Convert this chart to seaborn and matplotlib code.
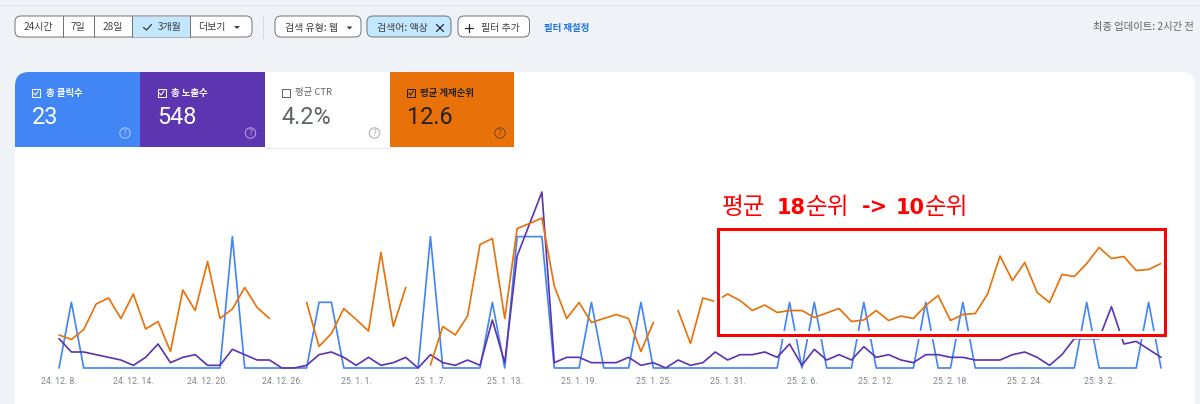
import numpy as np
import pandas as pd
import matplotlib
matplotlib.use("Agg")
import matplotlib.pyplot as plt
from matplotlib.patches import Rectangle, FancyBboxPatch, Circle
import seaborn as sns

sns.set_style("white")
plt.rcParams['font.family'] = ['Noto Sans CJK KR', 'DejaVu Sans']

# ----------------------------------------
# Data
# ----------------------------------------
nan = np.nan
dates = pd.date_range("2024-12-08", periods=90)
tick_labels = ["24. 12. 8.", "24. 12. 14.", "24. 12. 20.", "24. 12. 26.", "25. 1. 1.",
               "25. 1. 7.", "25. 1. 13.", "25. 1. 19.", "25. 1. 25.", "25. 1. 31.",
               "25. 2. 6.", "25. 2. 12.", "25. 2. 18.", "25. 2. 24.", "25. 3. 2."]

clicks = [0, 1, 0, 0, 0, 0, 0, 0, 0, 0, 0, 0, 0, 0, 2, 0, 0, 0, 0, 0,
          0, 1, 1, 0, 0, 0, 0, 0, 0, 0, 2, 0, 0, 0, 0, 1, 0, 2, 2, 2,
          0, 0, 0, 1, 0, 0, 0, 1, 0, 0, 0, 0, 0, 0, 0, 0, 0, 0, 0, 1,
          0, 1, 0, 0, 0, 1, 0, 0, 0, 0, 1, 0, 0, 1, 0, 0, 0, 0, 0, 0,
          0, 0, 0, 1, 0, 0, 0, 0, 1, 0]

impressions = [11, 6, 6, 5, 4, 3, 1, 4, 9, 2, 4, 5, 1, 1, 7, 5, 3, 3, 0, 0,
               1, 5, 6, 4, 1, 4, 1, 2, 4, 0, 5, 2, 1, 3, 1, 18, 2, 42, 54, 66,
               2, 4, 4, 2, 2, 2, 4, 1, 2, 0, 3, 1, 2, 6, 3, 5, 5, 6, 4, 9,
               1, 7, 3, 5, 3, 8, 4, 5, 3, 2, 5, 5, 4, 4, 3, 3, 3, 5, 6, 4,
               1, 5, 11, 11, 11, 23, 9, 10, 7, 4]

position = [24.4, 25.3, 23.3, 18.2, 17.0, 21.1, 16.2, 23.2, 21.7, 27.7,
            15.4, 19.5, 9.7, 21.1, 19.2, 14.9, 18.9, 21.1, nan, nan,
            17.9, 26.7, 24.1, 19.1, 21.3, 23.6, 7.9, 22.7, 14.9, nan,
            30.4, 22.7, 24.4, 20.6, 6.3, 5.1, 21.1, 3.1, 2.1, 1.0,
            14.6, 21.1, 17.9, 21.9, 21.1, 20.3, 21.1, 27.7, 21.9, nan,
            19.5, 26.1, 17.0, 17.7, 16.2, 17.5, 19.5, 18.4, 19.9, 19.5,
            19.5, 20.9, 20.0, 19.1, 21.7, 21.4, 19.5, 21.5, 20.6, 21.1,
            18.5, 16.5, 21.5, 20.3, 20.1, 16.2, 8.6, 13.5, 9.9, 15.9,
            17.9, 12.3, 12.7, 10.1, 6.9, 9.1, 8.7, 11.5, 11.3, 10.1]

df = pd.DataFrame({"date": dates, "clicks": clicks, "impressions": impressions, "position": position})
df["segment"] = df["position"].isna().cumsum()

BLUE = "#4285f4"
PURPLE = "#5e35b1"
ORANGE = "#e8710a"
GREY = "#5f6368"
CHIP = "#c2e7ff"
BG = "#eff2f7"
W, H = 1200, 404
px = 0.72  # one pixel in points at dpi 100

fig = plt.figure(figsize=(12, 4.04), dpi=100, facecolor=BG)

# ----------------------------------------
# Page furniture, in pixel coordinates
# ----------------------------------------
ui = fig.add_axes([0, 0, 1, 1], zorder=0)
ui.set_xlim(0, W)
ui.set_ylim(H, 0)
ui.axis("off")


def round_box(x0, y0, x1, y1, r, face, edge="none", lw=0.0, zorder=1):
    ui.add_patch(FancyBboxPatch((x0 + r, y0 + r), x1 - x0 - 2 * r, y1 - y0 - 2 * r,
                                boxstyle=f"round,pad={r},rounding_size={r}",
                                fc=face, ec=edge, lw=lw, zorder=zorder))


def label(x, y, s, size=7.2, color="#3c4043", ha="center", **kw):
    ui.text(x, y, s, fontsize=size, color=color, ha=ha, va="center", zorder=6, **kw)


def triangle(x, y, color="#3c4043"):
    ui.fill([x - 3, x + 3, x], [y - 1.5, y - 1.5, y + 1.5], color=color, lw=0, zorder=6)


ui.plot([0, W], [4.5, 4.5], color="#dfe3e8", lw=1 * px)

# date range buttons
round_box(15, 16, 252, 37, 6, "white", "#747775", 1 * px)
ui.add_patch(Rectangle((132, 16.5), 57.5, 20, fc=CHIP, ec="none", zorder=2))
for x in [62.5, 94, 132, 189.5]:
    ui.plot([x, x], [16, 37], color="#747775", lw=1 * px, zorder=3)
range_labels = ["24시간", "7일", "28일", "3개월", "더보기"]
for x, s in zip([38.5, 78, 113, 170, 212], range_labels):
    label(x, 27, s)
ui.plot([143.5, 146.5, 151.5], [27.5, 30, 24.5], color="#202124", lw=1.1 * px, zorder=6)
triangle(237, 27.5)
ui.plot([263, 263], [16, 37.5], color="#d5d8dd", lw=1 * px)

# filter chips
round_box(275, 16, 361, 37, 6, "white", "#747775", 1 * px)
label(311.5, 28, "검색 유형: 웹")
triangle(349.5, 28)
round_box(367, 16, 451, 37, 6, CHIP, "#747775", 1 * px)
label(402.5, 28, "검색어: 액상")
ui.plot([436.5, 443.5], [24.5, 31.5], color="#202124", lw=1.2 * px, zorder=6)
ui.plot([436.5, 443.5], [31.5, 24.5], color="#202124", lw=1.2 * px, zorder=6)
round_box(458, 16, 529.5, 37, 6, "white", "#747775", 1 * px)
ui.plot([465, 473], [27.5, 27.5], color="#202124", lw=1.2 * px, zorder=6)
ui.plot([469, 469], [23.5, 31.5], color="#202124", lw=1.2 * px, zorder=6)
label(500, 28, "필터 추가")
label(567, 28, "필터 재설정", color="#1a73e8", fontweight="bold", size=6.8)
label(1194, 27, "최종 업데이트: 2시간 전", color=GREY, ha="right", size=7.4)

# white card and the four metric tabs
round_box(15, 72, 1195, 460, 14, "white", zorder=1)
round_box(15, 72, 60, 147, 14, BLUE, zorder=2)
ui.add_patch(Rectangle((15, 100), 40, 47, fc=BLUE, ec="none", zorder=2))
ui.add_patch(Rectangle((40, 72), 100, 75, fc=BLUE, ec="none", zorder=2))
ui.add_patch(Rectangle((140, 72), 125, 75, fc=PURPLE, ec="none", zorder=2))
ui.add_patch(Rectangle((389.5, 72), 124.5, 75, fc=ORANGE, ec="none", zorder=2))
ui.plot([265, 389.5], [147.5, 147.5], color="#e6e8eb", lw=1 * px, zorder=2)

tab_names = ["총 클릭수", "총 노출수", "평균 CTR", "평균 게재순위"]
tab_values = ["23", "548", "4.2%", "12.6"]
tab_left = [32, 157.5, 281.5, 407]
tab_colors = ["white", "white", GREY, "#202124"]
tab_checked = [True, True, False, True]
for x, name, value, color, checked in zip(tab_left, tab_names, tab_values, tab_colors, tab_checked):
    ui.add_patch(Rectangle((x, 89), 8, 8, fc="none", ec=color, lw=1 * px, zorder=6))
    if checked:
        ui.plot([x + 1.8, x + 3.5, x + 6.5], [93, 95, 91], color=color, lw=1 * px, zorder=6)
    label(x + 13.5, 93, name, color=color, ha="left", size=6.8, fontweight="bold" if checked else "normal")
    label(x, 117.5, value, size=16.8, color=color, ha="left", family="Roboto", fontweight="normal")
    help_x = x + 93
    ui.add_patch(Circle((help_x, 133), 5.2, fc="none", ec=color, lw=1 * px, alpha=0.55, zorder=6))
    ui.text(help_x, 133, "?", fontsize=6, color=color, alpha=0.55, ha="center", va="center", zorder=6)

# ----------------------------------------
# The chart: one axis per series, like the Search Console report
# ----------------------------------------
left, right, bottom, top = 59, 1161, 368, 180
rect = [left / W, 1 - bottom / H, (right - left) / W, (bottom - top) / H]
ax = fig.add_axes(rect, zorder=2)
ax.patch.set_visible(False)
ax2 = ax.twinx()
ax3 = ax.twinx()

line_w = 1.7 * px
sns.lineplot(data=df, x="date", y="clicks", color=BLUE, lw=line_w, ax=ax, clip_on=False)
sns.lineplot(data=df, x="date", y="impressions", color=PURPLE, lw=line_w, ax=ax2, clip_on=False)
sns.lineplot(data=df, x="date", y="position", units="segment", estimator=None,
             color=ORANGE, lw=line_w, ax=ax3, clip_on=False)

ax.set_ylim(0, 2.862)
ax2.set_ylim(0, 70.5)
ax3.set_ylim(31, -6.6)
for a in [ax, ax2, ax3]:
    a.set_xlim(dates[0], dates[-1])
    a.set_ylabel("")
    a.set_xlabel("")
    a.set_yticks([])
    sns.despine(ax=a, left=True, right=True, top=True, bottom=True)

ax.set_xticks(dates[::6])
ax.set_xticklabels(tick_labels, fontsize=6.3, color="#80868b", family="Roboto")
ax.tick_params(axis="x", length=0, pad=6.5)

# ----------------------------------------
# Red note drawn over the screenshot
# ----------------------------------------
note = fig.add_axes([0, 0, 1, 1], zorder=3)
note.set_xlim(0, W)
note.set_ylim(H, 0)
note.axis("off")
note.patch.set_visible(False)

box_x0, box_x1, box_y0, box_y1 = 717.5, 1165, 229, 335
# white halo under the red box, it cuts the lines where they cross it
note.add_patch(Rectangle((box_x0, box_y0), box_x1 - box_x0, box_y1 - box_y0,
                         fc="none", ec="white", lw=8 * px, zorder=1))
note.add_patch(Rectangle((box_x0, box_y0), box_x1 - box_x0, box_y1 - box_y0,
                         fc="none", ec="#ff0000", lw=3 * px, zorder=3))

note_parts = [(722, "평균", "normal"), (777, "18", "bold"), (806, "순위", "normal"),
              (862, "->", "bold"), (896, "10", "bold"), (925, "순위", "normal")]
for x, s, weight in note_parts:
    fam = "Noto Sans CJK KR" if weight == "normal" else "DejaVu Sans"
    size = 17 if weight == "normal" else 15
    note.text(x, 208, s, color="#ff0000", fontsize=size, fontweight=weight, family=fam, ha="left", va="center")

fig.savefig("out.png", dpi=100, facecolor=BG)
